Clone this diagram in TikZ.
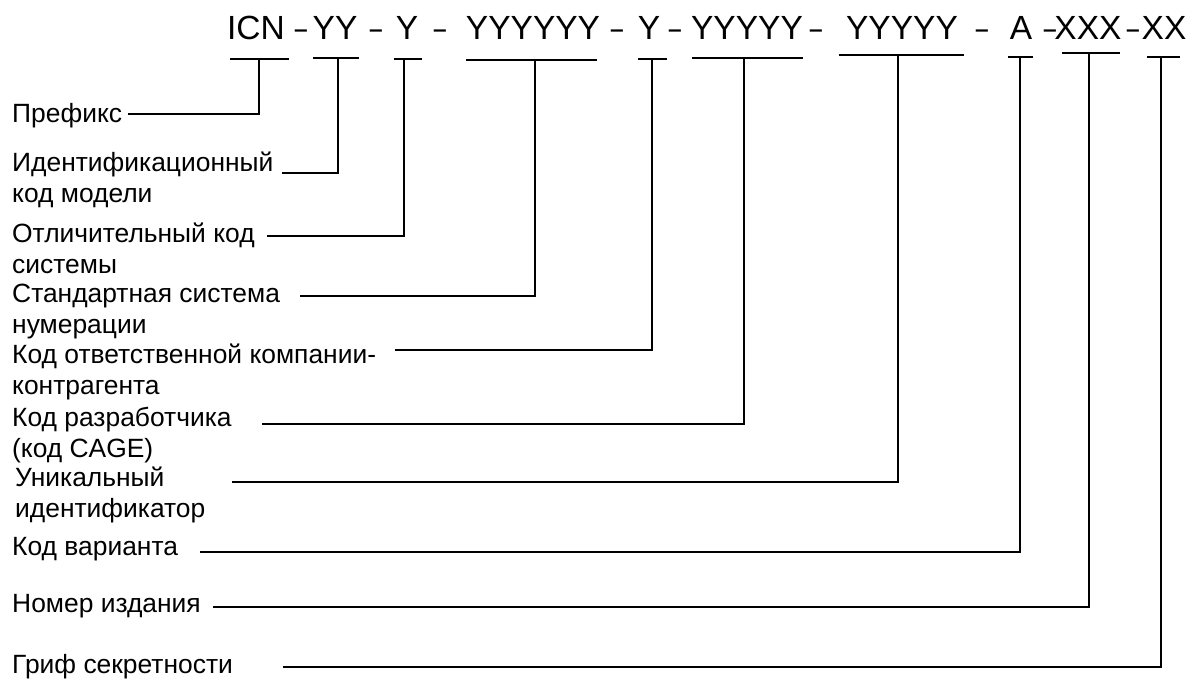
\documentclass[tikz,border=0pt]{standalone}
\usepackage{fontspec}
\setmainfont{Liberation Sans}

\tikzset{
  code/.style={inner sep=0pt, anchor=base, font=\fontsize{33.5}{40}\selectfont},
  lbl/.style={inner sep=0pt, anchor=base west, align=left, font=\fontsize{26.4}{31}\selectfont},
  link/.style={line width=2pt},
}

\begin{document}
\begin{tikzpicture}[x=1pt,y=-1pt]
\useasboundingbox (0,0) rectangle (1189,678);
% code parts
\foreach \n/\x/\t in {icn/256/ICN, yy/335/YY, ya/407/Y, ysix/533/YYYYYY, yb/649/Y,
    yfive/747/YYYYY, yuid/902/YYYYY, var/1021/A, iss/1088/XXX, sec/1164/XX}
  \node[code] (p-\n) at (\x,39) {\t};
\foreach \x [count=\i] in {301,376,440,617,675,816,982,1050,1133}
  \node[code] (d\i) at (\x,39) {\scalebox{0.65}[1]{–}};
% underlines
\foreach \n/\a/\b/\y/\v/\w in {icn/230/289/59/259/1.4pt, yy/313/359/58/338/1.4pt,
    ya/394/422/59/404/1.4pt, ysix/466/597/60/535/1.4pt, yb/638/667/59/652/2.6pt,
    yfive/692/803/58/744/1.4pt, yuid/839/964/55/898/2.6pt, var/1008/1033/57/1020/2.6pt,
    iss/1062/1120/53/1089/1.4pt, sec/1147/1180/57/1161/2.6pt}{
  \draw[line width=\w] (\a,\y) -- (\b,\y);
  \coordinate (u-\n) at (\v,\y);
}
% labels and connectors (y = baseline of the last line)
\foreach \n/\x/\y/\t/\s/\l in {icn/12/122/Префикс/128/114,
    yy/12/202/Идентификационный\\код модели/282/173,
    ya/12/273/Отличительный код\\системы/267/236,
    ysix/12/333/Стандартная система\\нумерации/300/296,
    yb/12/394/Код ответственной компании-\\контрагента/395/350,
    yfive/12/457/Код разработчика\\(код CAGE)/262/424,
    yuid/15/517/Уникальный\\идентификатор/232/482,
    var/12/555/Код варианта/200/552,
    iss/12/612/Номер издания/213/607,
    sec/12/673/Гриф секретности/283/667}{
  \node[lbl] (l-\n) at (\x,\y) {\t};
  \coordinate (s-\n) at (\s,\l);
  \draw[link] (s-\n) -| (u-\n);
}
\end{tikzpicture}
\end{document}
